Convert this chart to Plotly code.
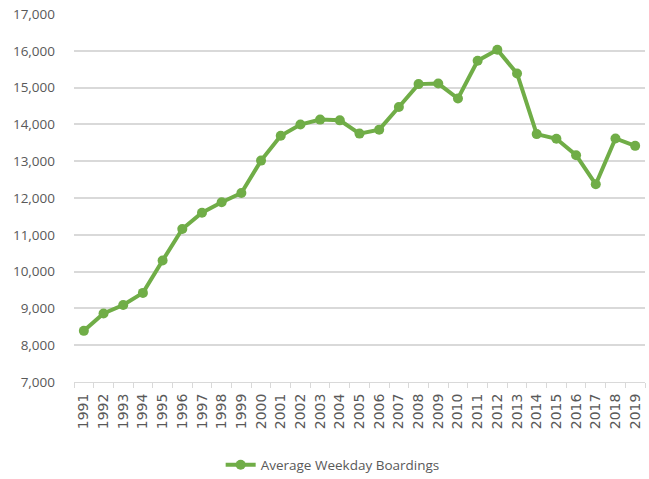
import plotly.graph_objects as go

years = [str(y) for y in range(1991, 2020)]
boardings = [8390, 8863, 9093, 9421, 10301, 11156, 11601, 11885, 12137, 13016,
             13690, 13995, 14130, 14110, 13750, 13858, 14474, 15095, 15110, 14703,
             15728, 16030, 15384, 13736, 13608, 13163, 12373, 13618, 13417]
series_name = "Average Weekday Boardings"
y_ticks = list(range(7000, 17001, 1000))

green = "#70AD47"
grey_text = "#595959"
grid = "#D9D9D9"

fig = go.Figure()
fig.add_trace(go.Scatter(
    x=years, y=boardings, mode="lines+markers", name=series_name,
    line=dict(color=green, width=4),
    marker=dict(color=green, size=10),
))

fig.update_layout(
    width=649, height=479,
    margin=dict(l=74, r=4, t=14, b=97, autoexpand=False),
    paper_bgcolor="white", plot_bgcolor="white",
    font=dict(family="Open Sans", color=grey_text, size=13),
    showlegend=True,
    legend=dict(orientation="h", x=0.453, xanchor="center", y=-0.2255, yanchor="middle",
                font=dict(size=13.5, color=grey_text)),
    xaxis=dict(type="category", range=[-0.5, len(years) - 0.5],
               showgrid=False, showline=True, linecolor=grid, linewidth=1,
               ticks="outside", tickson="boundaries", ticklen=5, tickcolor=grid,
               tickangle=-90, automargin=False, ticklabelstandoff=5,
               tickfont=dict(family="DejaVu Sans", size=14, color=grey_text)),
    yaxis=dict(range=[7000, 17000], tickvals=y_ticks, tickformat=",d",
               showgrid=True, gridcolor=grid, gridwidth=1.5, zeroline=False,
               showline=False, ticks="", ticklabelstandoff=18, automargin=False,
               ticklabeloverflow="allow",
               tickfont=dict(family="Open Sans", size=13.5, color=grey_text)),
)

fig.write_html(
    "out.html",
    config={"displayModeBar": False},
    post_script="document.body.style.margin='0';document.body.style.overflow='hidden';",
)
